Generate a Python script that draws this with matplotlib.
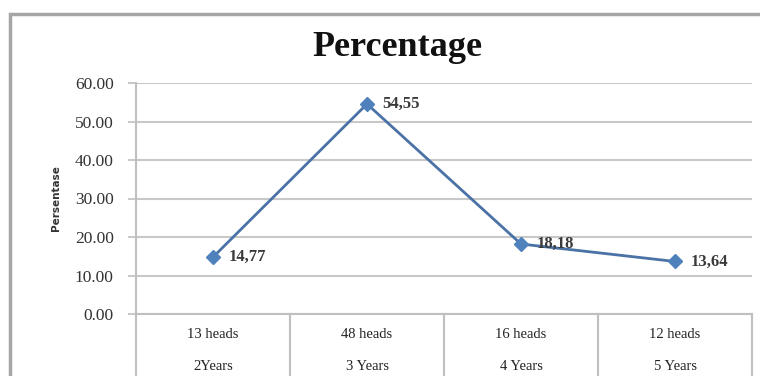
import numpy as np
import matplotlib.pyplot as plt
from matplotlib.patches import Rectangle
from matplotlib.transforms import blended_transform_factory

# data
heads = ["13 heads", "48 heads", "16 heads", "12 heads"]
years = ["2Years", "3 Years", "4 Years", "5 Years"]
percent = [14.77, 54.55, 18.18, 13.64]
value_labels = ["14,77", "54,55", "18,18", "13,64"]
y_ticks = [0, 10, 20, 30, 40, 50, 60]

W, H = 760, 376
fig = plt.figure(figsize=(W / 100, H / 100), dpi=100)

# outer chart frame (cut off on the right and bottom like the source)
fig.patches.append(Rectangle((10 / W, -0.05), 1.2, (H - 14) / H + 0.05,
                             transform=fig.transFigure, fill=False,
                             edgecolor="#a6a6a6", linewidth=2.5))

ax = fig.add_axes([136 / W, (H - 314) / H, (752 - 136) / W, (314 - 83) / H])
x = np.arange(len(percent))
ax.set_xlim(-0.5, len(percent) - 0.5)
ax.set_ylim(0, 60)

for s in ["top", "right", "bottom"]:
    ax.spines[s].set_visible(False)
ax.spines["left"].set_color("#bfbfbf")
ax.spines["left"].set_linewidth(1.5)
ax.set_yticks(y_ticks)
ax.set_yticklabels([f"{v:.2f}" for v in y_ticks], family="Liberation Serif",
                   fontsize=12.5, color="#333333")
ax.tick_params(axis="y", length=6, width=1.2, color="#bfbfbf", pad=10)
ax.set_xticks([])
ax.grid(axis="y", color="#c8c8c8", linewidth=1.5)
ax.set_axisbelow(True)

ax.plot(x, percent, color="#4a72a6", linewidth=2, marker="D",
        markersize=7, markerfacecolor="#4f81bd", markeredgecolor="#4f81bd",
        zorder=3)
for xi, yi, lab in zip(x, percent, value_labels):
    ax.annotate(lab, (xi, yi), xytext=(11, 0), textcoords="offset points",
                va="center", ha="left", family="Liberation Serif",
                fontweight="bold", fontsize=12, color="#3a3a3a")

# category table under the plot
tr = blended_transform_factory(ax.transData, ax.transAxes)
ax.plot([-0.5, len(percent) - 0.5], [0, 0], transform=tr, color="#bfbfbf",
        linewidth=1.5, clip_on=False)
for b in np.arange(len(percent) + 1) - 0.5:
    ax.plot([b, b], [0, -0.3], transform=tr, color="#bfbfbf",
            linewidth=1.5, clip_on=False)
for xi, h, yr in zip(x, heads, years):
    ax.text(xi, -20 / 231, h, transform=tr, ha="center", va="center",
            family="Liberation Serif", fontsize=10.5, color="#222222")
    ax.text(xi, -52 / 231, yr, transform=tr, ha="center", va="center",
            family="Liberation Serif", fontsize=10.5, color="#222222")

ax.set_ylabel("Persentase", family="DejaVu Sans", fontweight="bold",
              fontsize=7.5, color="#333333", labelpad=10)

fig.text(397 / W, 1 - 48 / H, "Percentage", ha="center", va="center",
         family="Liberation Serif", fontweight="bold", fontsize=26,
         color="#111111")

fig.savefig("out.png", dpi=100)
